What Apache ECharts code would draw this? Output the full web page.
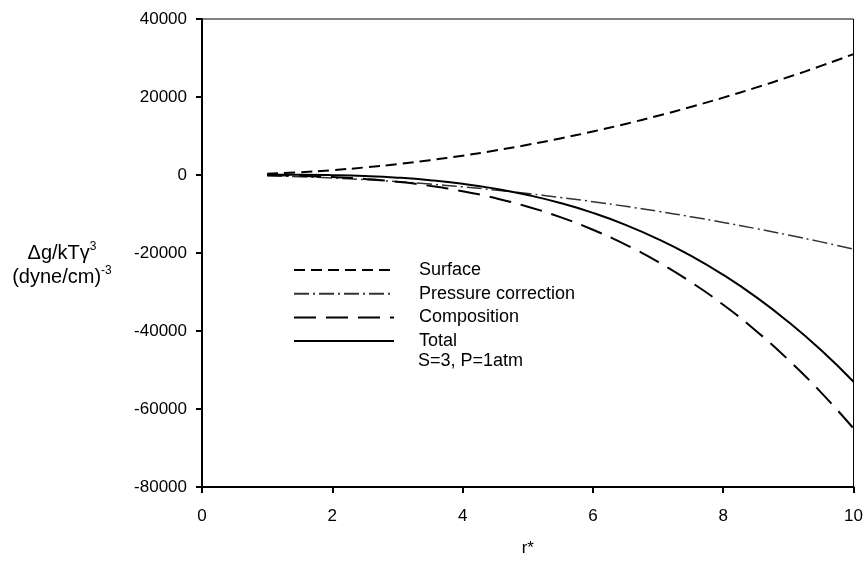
<!DOCTYPE html>
<html>
<head>
<meta charset="utf-8">
<script src="https://cdn.jsdelivr.net/npm/echarts@6/dist/echarts.min.js"></script>
<style>html,body{margin:0;padding:0;background:#fff}#c{width:866px;height:562px}</style>
</head>
<body>
<div id="c"></div>
<script>
const rValues = [1, 1.5, 2, 2.5, 3, 3.5, 4, 4.5, 5, 5.5, 6, 6.5, 7, 7.5, 8, 8.5, 9, 9.5, 10];
const surface = [310, 700, 1240, 1940, 2790, 3800, 4960, 6280, 7750, 9380, 11160, 13100, 15190, 17440, 19840, 22400, 25110, 27980, 31000];
const pressure = [-190, -430, -760, -1190, -1710, -2330, -3040, -3850, -4750, -5750, -6840, -8030, -9310, -10690, -12160, -13730, -15390, -17150, -19000];
const composition = [-65, -220, -520, -1020, -1755, -2790, -4160, -5920, -8125, -10810, -14040, -17850, -22300, -27420, -33280, -39920, -47390, -55730, -65000];
const total = [55, 50, -40, -265, -675, -1320, -2240, -3490, -5125, -7180, -9720, -12780, -16420, -20670, -25600, -31250, -37670, -44900, -53000];
const seriesNames = ['Surface', 'Pressure correction', 'Composition', 'Total'];
const xTicks = [0, 2, 4, 6, 8, 10];
const yTicks = [-80000, -60000, -40000, -20000, 0, 20000, 40000];

const pair = arr => rValues.map((r, i) => [r, arr[i]]);
const font = 'Liberation Sans, Arial, sans-serif';

const chart = echarts.init(document.getElementById('c'), null, {renderer: 'canvas'});
chart.setOption({
  animation: false,
  backgroundColor: '#fff',
  grid: {left: 202, right: 12, top: 19, bottom: 73, show: true, borderColor: '#000', borderWidth: 1},
  xAxis: {
    type: 'value', min: xTicks[0], max: xTicks[xTicks.length - 1], interval: 2,
    name: 'r*', nameLocation: 'middle', nameGap: 53,
    nameTextStyle: {fontFamily: font, fontSize: 17, color: '#000'},
    axisLine: {show: true, onZero: false, lineStyle: {color: '#000', width: 2}},
    axisTick: {show: true, inside: false, length: 6, lineStyle: {color: '#000', width: 2}},
    axisLabel: {fontFamily: font, fontSize: 17, color: '#000', margin: 21},
    splitLine: {show: false}
  },
  yAxis: {
    type: 'value', min: yTicks[0], max: yTicks[yTicks.length - 1], interval: 20000,
    axisLine: {show: true, onZero: false, lineStyle: {color: '#000', width: 2}},
    axisTick: {show: true, inside: false, length: 6, lineStyle: {color: '#000', width: 2}},
    axisLabel: {fontFamily: font, fontSize: 17, color: '#000', margin: 15, formatter: v => String(v)},
    splitLine: {show: false}
  },
  legend: {
    orient: 'vertical', left: 293, top: 261, padding: 0, itemWidth: 100, itemHeight: 14, itemGap: 5.7,
    itemStyle: {opacity: 0},
    textStyle: {fontFamily: font, fontSize: 18, color: '#000', padding: [0, 0, 0, 20]},
    data: seriesNames.map(n => ({name: n}))
  },
  series: [
    {name: seriesNames[0], type: 'line', data: pair(surface), smooth: true, showSymbol: false, symbol: 'none',
     lineStyle: {color: '#000', width: 2, type: [11, 6]}},
    {name: seriesNames[1], type: 'line', data: pair(pressure), smooth: true, showSymbol: false, symbol: 'none',
     lineStyle: {color: '#333', width: 1.5, type: [15, 4, 2, 4]}},
    {name: seriesNames[2], type: 'line', data: pair(composition), smooth: true, showSymbol: false, symbol: 'none',
     lineStyle: {color: '#000', width: 2, type: [22, 10]}},
    {name: seriesNames[3], type: 'line', data: pair(total), smooth: true, showSymbol: false, symbol: 'none',
     lineStyle: {color: '#000', width: 2, type: 'solid'}}
  ],
  graphic: [
    {type: 'text', left: 418, top: 352,
     style: {text: 'S=3, P=1atm', font: '18px ' + font, fill: '#000'}},
    {type: 'text', x: 62, y: 265,
     style: {
       text: '{a|Δg/kTγ}{s|3}\n{a|(dyne/cm)}{s|-3}',
       align: 'center', verticalAlign: 'middle',
       rich: {
         a: {fontFamily: font, fontSize: 20, lineHeight: 24, color: '#000'},
         s: {fontFamily: font, fontSize: 12, lineHeight: 24, verticalAlign: 'top', color: '#000', padding: [0, 0, 10, 0]}
       }
     }}
  ]
});
</script>
</body>
</html>
